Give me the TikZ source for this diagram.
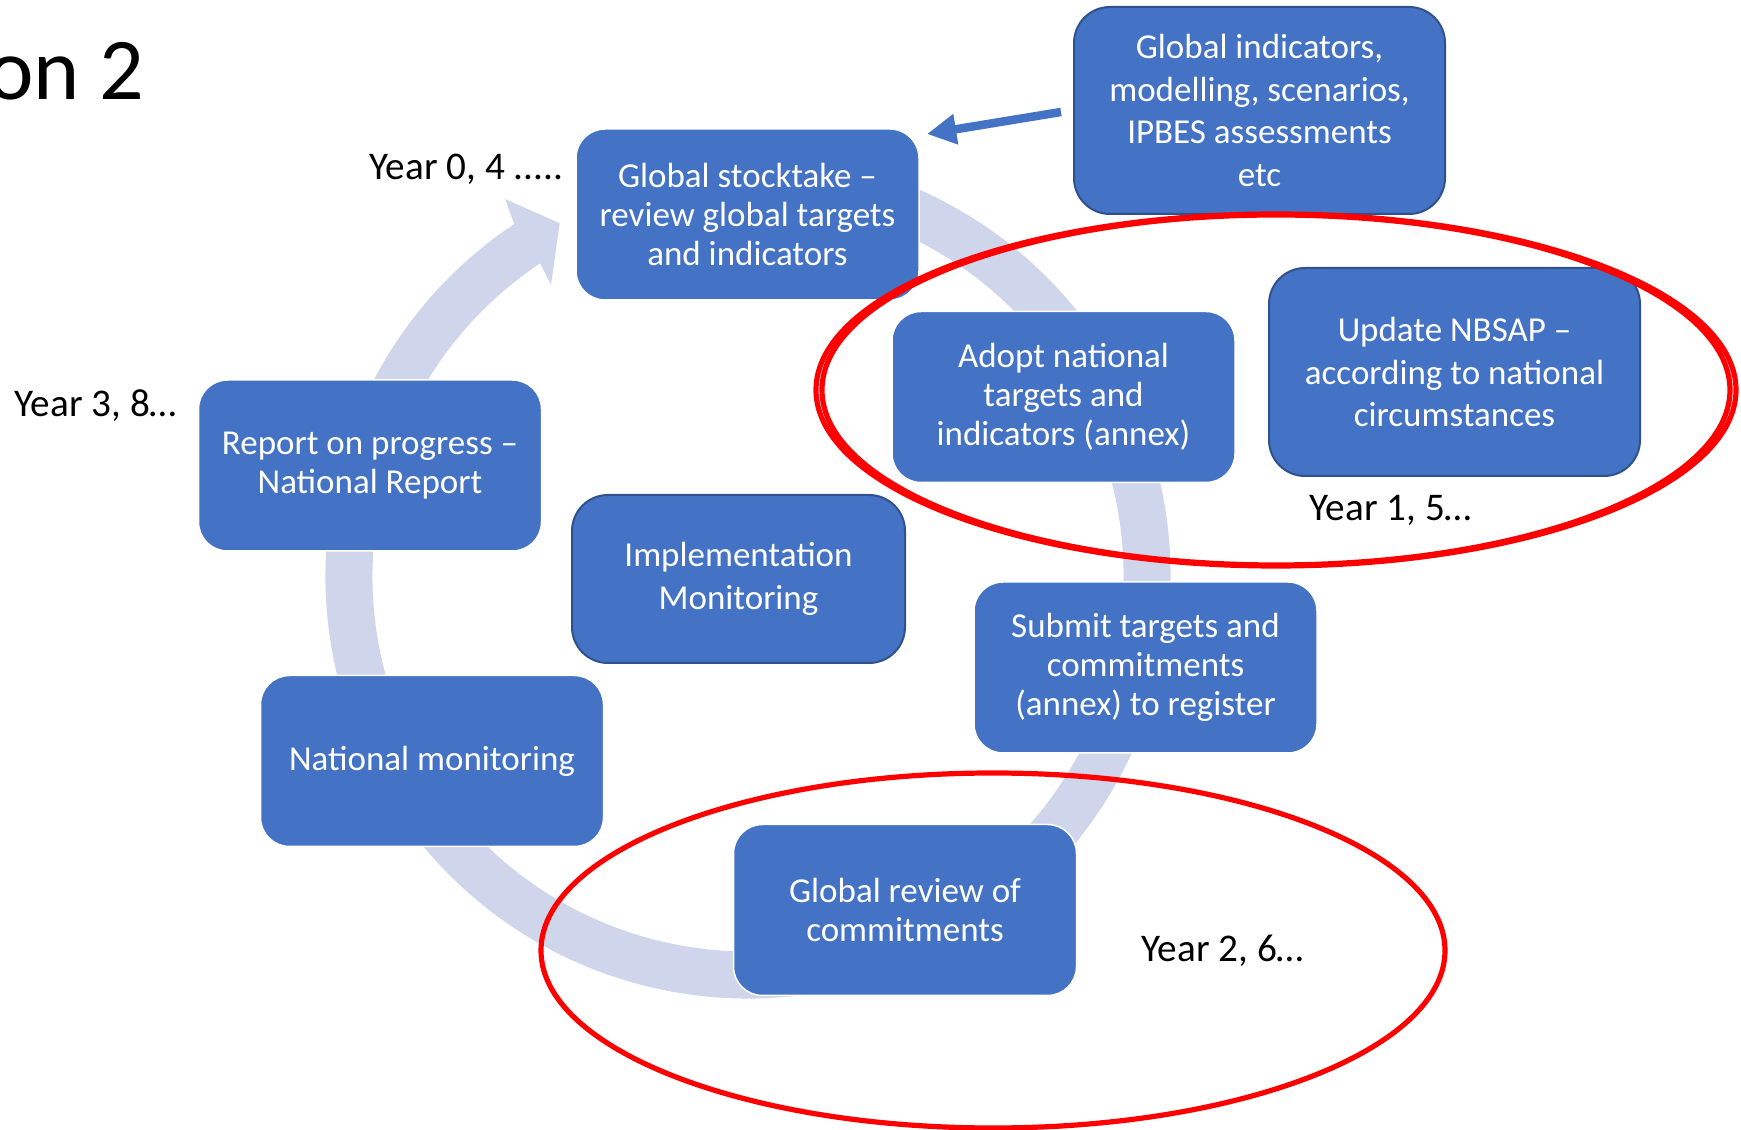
\documentclass[tikz,border=0pt]{standalone}
\usepackage{fontspec}
\setmainfont{Carlito}
\usetikzlibrary{arrows.meta}
\definecolor{boxblue}{HTML}{4472C4}
\definecolor{boxedge}{HTML}{2F528F}
\definecolor{ringcol}{HTML}{CFD5EA}
\definecolor{redline}{HTML}{FF0000}
\begin{document}
\begin{tikzpicture}[x=0.5pt,y=0.5pt,
  sabox/.style={rectangle, rounded corners=14.5pt, fill=boxblue, draw=white,
    line width=0.75pt, minimum width=171.5pt, minimum height=85.5pt,
    text=white, align=center, inner sep=0pt,
    font=\fontsize{17.5}{19.5}\selectfont},
  plainbox/.style={rectangle, rounded corners=18pt, fill=boxblue, draw=boxedge,
    line width=1pt, text=white, align=center, inner sep=0pt,
    font=\fontsize{17.5}{21.25}\selectfont},
  yearlbl/.style={inner sep=0pt, anchor=base west, text=black,
    font=\fontsize{19.6}{23}\selectfont},
  ringarc/.style={draw=ringcol, line width=23.5pt},
  infoarrow/.style={draw=boxblue, line width=4.25pt,
    -{Triangle[length=14.6pt,width=14.5pt]}},
  redring/.style={draw=redline, line width=2.6pt}
]
\useasboundingbox (0,0) rectangle (1741,1130);
\fill[white] (0,0) rectangle (1741,1130);

% title fragment
\node[inner sep=0pt, anchor=base east, font=\fontsize{44}{50}\selectfont] (title) at (145,1030) {on 2};

% cycle ring
\coordinate (rc) at (748,554);
\draw[ringarc] ([shift={(rc)}]80:399) arc[start angle=80, end angle=-236.6, radius=399];
\fill[ringcol] ([shift={(rc)}]123.6:422.5) -- ([shift={(rc)}]122.8:448.4)
  -- ([shift={(rc)}]118.1:399.9) -- ([shift={(rc)}]124.1:351.4)
  -- ([shift={(rc)}]123.6:375.5) -- cycle;

% boxes
\node[sabox] (stock) at (747.5,915.5) {Global stocktake –\\review global targets\\and indicators};
\node[plainbox, minimum width=185.5pt, minimum height=103.5pt] (gind) at (1259.5,1019.5) {Global indicators,\\modelling, scenarios,\\IPBES assessments\\etc};
\node[sabox] (adopt) at (1063.5,733) {Adopt national\\targets and\\indicators (annex)};
\node[plainbox, minimum width=185.5pt, minimum height=104pt] (nbsap) at (1454.5,758) {Update NBSAP –\\according to national\\circumstances};
\node[sabox] (report) at (370,664.5) {Report on progress –\\National Report};
\node[plainbox, minimum width=166.5pt, minimum height=84pt] (impl) at (738.5,551) {Implementation\\Monitoring};
\node[sabox] (submit) at (1145.5,462.5) {Submit targets and\\commitments\\(annex) to register};
\node[sabox] (natmon) at (432,369) {National monitoring};
\node[sabox] (grev) at (905,220) {Global review of\\commitments};

% arrow from global indicators
\coordinate (gtail) at (1061,1018);
\coordinate (gtip) at (927,996);
\draw[infoarrow] (gtail) -- (gtip);

% red ellipses
\draw[redring] (1276,740) ellipse [x radius=460, y radius=176];
\draw[redring] (1276,740) ellipse [x radius=454, y radius=175];
\draw[redring] (993,179.5) ellipse [x radius=452, y radius=177.5];

% year labels
\node[yearlbl] (y0) at (369,950) {Year 0, 4 .....};
\node[yearlbl] (y3) at (14,713) {Year 3, 8…};
\node[yearlbl] (y1) at (1309,609.5) {Year 1, 5…};
\node[yearlbl] (y2) at (1141,168) {Year 2, 6…};
\end{tikzpicture}
\end{document}
